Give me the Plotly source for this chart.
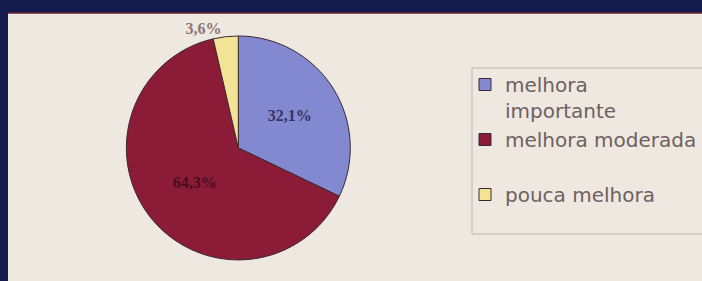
import plotly.graph_objects as go

categories = ["melhora<br>importante", "melhora moderada<br> ", "pouca melhora"]
values = [32.1, 64.3, 3.6]
colors = ["#8389d0", "#8c1b38", "#f3e396"]
text_colors = ["#34346a", "#4a0d1e", "#8a7670"]
text_positions = ["inside", "inside", "outside"]

labels_txt = [f"{v:.1f}%".replace(".", ",") for v in values]

W, H = 702, 281
fig = go.Figure()
fig.add_trace(go.Pie(
    labels=categories,
    values=values,
    text=labels_txt,
    textinfo="text",
    textposition=text_positions,
    insidetextorientation="horizontal",
    textfont=dict(family="Liberation Serif", size=16, color=text_colors, weight="bold"),
    marker=dict(colors=colors, line=dict(color="#3a2a30", width=1)),
    sort=False,
    direction="clockwise",
    rotation=0,
    hoverinfo="skip",
    domain=dict(x=[0.18, 0.499], y=[0.075, 0.872]),
))

shapes = [
    # dark slide surround
    dict(type="rect", xref="paper", yref="paper", x0=0, x1=8 / W, y0=0, y1=1,
         fillcolor="#141a4c", line_width=0, layer="below"),
    dict(type="rect", xref="paper", yref="paper", x0=0, x1=1, y0=(H - 13) / H, y1=1,
         fillcolor="#141a4c", line_width=0, layer="below"),
    dict(type="line", xref="paper", yref="paper", x0=8 / W, x1=1, y0=(H - 13) / H, y1=(H - 13) / H,
         line=dict(color="#6a2232", width=1.5)),
    # legend frame
    dict(type="rect", xref="paper", yref="paper", x0=472 / W, x1=1.01, y0=(H - 234) / H, y1=(H - 68) / H,
         line=dict(color="#bdb5ad", width=1), fillcolor="rgba(0,0,0,0)"),
]

fig.update_layout(
    width=W, height=H,
    margin=dict(l=0, r=0, t=0, b=0),
    paper_bgcolor="#efe8e1",
    plot_bgcolor="#efe8e1",
    shapes=shapes,
    showlegend=True,
    legend=dict(
        x=465 / W, y=(H - 65) / H, xanchor="left", yanchor="top",
        valign="top",
        font=dict(family="DejaVu Sans", size=20, color="#6e6060"),
        bgcolor="rgba(0,0,0,0)", borderwidth=0,
        itemwidth=30,
    ),
)

fig.write_html("out.html", config={"displayModeBar": False})

with open("out.html", encoding="utf-8") as f:
    html = f.read()
html = html.replace("<body>", '<body style="margin:0;padding:0;overflow:hidden">', 1)
with open("out.html", "w", encoding="utf-8") as f:
    f.write(html)
